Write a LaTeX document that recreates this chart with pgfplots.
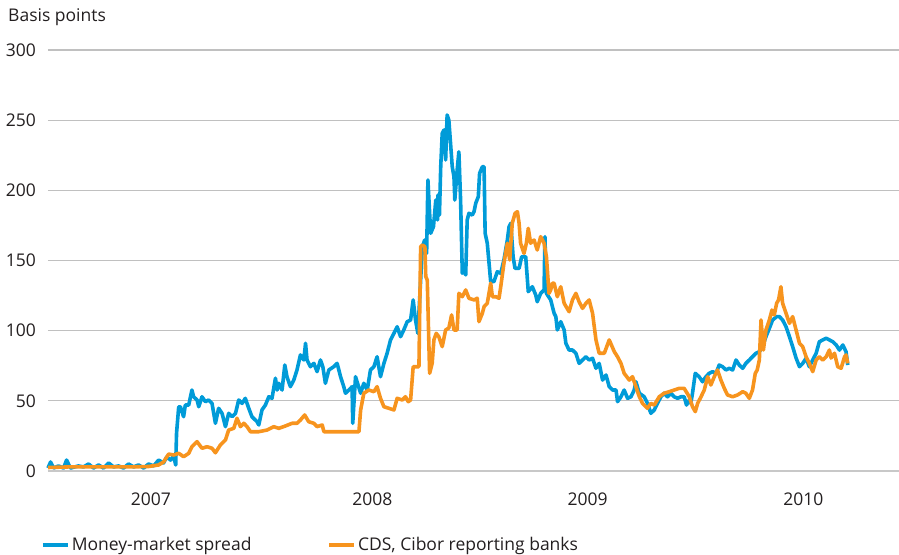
\documentclass[border=0pt]{standalone}
\usepackage{fontspec}
\setmainfont{Open Sans}
\usepackage{pgfplots}
\usepackage{pgfplotstable}
\pgfplotsset{compat=1.18}
\definecolor{mmblue}{RGB}{0,155,216}
\definecolor{cdsorange}{RGB}{247,148,30}
\definecolor{gridgray}{RGB}{192,192,192}
\definecolor{axisgray}{RGB}{200,200,200}
\definecolor{txt}{RGB}{35,31,32}

\pgfplotstableread{
x y
2007.000 2.1
2007.012 6.4
2007.026 2.1
2007.049 3.6
2007.073 2.1
2007.087 7.8
2007.105 2.1
2007.143 3.6
2007.166 2.9
2007.190 5.0
2007.213 2.1
2007.237 4.3
2007.260 2.1
2007.284 5.7
2007.307 2.9
2007.331 3.6
2007.354 2.1
2007.377 5.0
2007.401 2.9
2007.424 4.3
2007.448 2.1
2007.471 5.0
2007.495 3.6
2007.518 7.8
2007.541 5.7
2007.556 10.0
2007.574 7.8
2007.588 10.7
2007.598 4.3
2007.602 27.1
2007.612 45.6
2007.620 45.8
2007.635 38.7
2007.643 47.0
2007.659 47.0
2007.674 57.7
2007.682 52.9
2007.698 50.6
2007.706 45.8
2007.721 52.9
2007.737 49.4
2007.752 50.6
2007.768 48.2
2007.784 34.0
2007.799 44.7
2007.815 41.1
2007.831 31.6
2007.846 41.1
2007.862 38.7
2007.878 41.1
2007.893 50.6
2007.909 48.2
2007.924 51.8
2007.940 44.7
2007.955 38.7
2007.979 35.1
2007.987 32.8
2008.002 43.5
2008.018 47.0
2008.034 52.9
2008.049 51.8
2008.065 66.1
2008.073 57.7
2008.081 62.5
2008.096 57.7
2008.109 75.5
2008.119 67.2
2008.135 60.1
2008.151 64.8
2008.166 72.0
2008.182 82.7
2008.198 79.1
2008.206 91.0
2008.213 79.1
2008.229 74.3
2008.245 76.7
2008.260 70.8
2008.276 79.1
2008.287 74.3
2008.299 62.5
2008.315 72.0
2008.338 74.3
2008.354 76.7
2008.370 67.2
2008.385 60.1
2008.393 55.4
2008.409 57.7
2008.424 60.1
2008.427 34.0
2008.440 67.2
2008.464 55.4
2008.479 62.5
2008.495 57.7
2008.510 72.0
2008.526 74.3
2008.541 81.4
2008.557 67.2
2008.573 76.7
2008.588 83.9
2008.604 93.4
2008.620 98.1
2008.635 102.8
2008.651 95.7
2008.666 100.5
2008.682 106.4
2008.698 107.6
2008.710 121.9
2008.721 107.6
2008.732 98.1
2008.745 136.1
2008.753 159.8
2008.764 164.6
2008.773 155.1
2008.779 207.4
2008.792 169.4
2008.805 174.1
2008.816 193.1
2008.824 178.9
2008.826 196.7
2008.833 182.4
2008.839 216.8
2008.846 240.6
2008.854 243.0
2008.862 221.6
2008.869 253.7
2008.877 250.1
2008.885 233.5
2008.893 216.8
2008.901 209.7
2008.905 193.1
2008.916 214.5
2008.924 227.5
2008.932 193.1
2008.940 140.9
2008.948 143.2
2008.956 139.7
2008.963 178.9
2008.971 183.6
2008.987 182.4
2008.995 184.8
2009.003 190.8
2009.015 195.5
2009.021 212.1
2009.034 216.8
2009.042 216.8
2009.047 169.4
2009.057 162.3
2009.073 134.9
2009.088 134.9
2009.104 142.0
2009.120 140.9
2009.135 150.4
2009.151 164.6
2009.159 174.1
2009.167 176.5
2009.178 152.7
2009.187 144.4
2009.206 144.4
2009.218 152.7
2009.237 152.7
2009.249 127.8
2009.268 131.3
2009.284 125.4
2009.291 120.6
2009.307 126.6
2009.323 129.0
2009.327 167.0
2009.334 126.6
2009.354 121.9
2009.370 112.4
2009.378 110.0
2009.385 100.5
2009.401 106.4
2009.417 100.5
2009.425 91.0
2009.440 86.2
2009.456 86.2
2009.472 83.9
2009.487 76.7
2009.503 79.1
2009.519 81.4
2009.534 79.1
2009.550 80.3
2009.566 73.2
2009.581 76.7
2009.597 64.8
2009.613 68.4
2009.628 60.1
2009.644 57.7
2009.660 57.7
2009.667 49.4
2009.683 52.9
2009.698 57.7
2009.714 51.8
2009.730 52.9
2009.745 57.7
2009.753 63.6
2009.769 55.4
2009.792 52.9
2009.807 48.2
2009.823 41.1
2009.839 43.5
2009.854 48.2
2009.870 52.9
2009.885 55.4
2009.901 52.9
2009.917 55.4
2009.932 52.9
2009.948 51.8
2009.964 52.9
2009.979 52.9
2009.990 47.0
2010.003 50.6
2010.010 48.2
2010.018 55.4
2010.031 69.6
2010.049 67.2
2010.065 63.6
2010.081 67.2
2010.096 69.6
2010.112 70.8
2010.128 69.6
2010.143 75.5
2010.159 74.3
2010.175 72.0
2010.190 73.2
2010.206 72.0
2010.222 79.1
2010.237 75.5
2010.253 73.2
2010.268 76.7
2010.284 79.1
2010.299 81.4
2010.315 83.9
2010.331 85.0
2010.346 88.6
2010.362 95.7
2010.378 101.7
2010.393 107.6
2010.412 110.0
2010.425 110.0
2010.440 107.6
2010.456 102.8
2010.472 95.7
2010.487 88.6
2010.503 80.5
2010.519 74.3
2010.534 76.7
2010.550 80.3
2010.565 74.3
2010.581 79.1
2010.597 83.9
2010.612 92.1
2010.628 93.4
2010.644 94.6
2010.659 93.4
2010.675 92.1
2010.691 89.8
2010.706 86.2
2010.722 89.8
2010.737 85.0
2010.745 75.5
}\mmtable

\pgfplotstableread{
x y
2007.000 2.5
2007.096 2.9
2007.237 2.9
2007.377 2.9
2007.471 3.2
2007.518 4.3
2007.541 6.4
2007.565 12.1
2007.588 11.4
2007.612 12.6
2007.635 10.2
2007.659 12.6
2007.674 17.3
2007.698 20.9
2007.721 16.2
2007.745 17.3
2007.768 16.2
2007.784 13.0
2007.807 18.5
2007.831 22.1
2007.846 29.2
2007.870 30.4
2007.885 37.6
2007.901 31.6
2007.917 34.0
2007.932 31.6
2007.948 28.0
2007.987 28.0
2008.026 29.2
2008.057 31.6
2008.081 30.4
2008.112 32.1
2008.143 34.0
2008.166 34.0
2008.182 36.3
2008.202 39.9
2008.221 35.1
2008.245 34.0
2008.260 31.6
2008.284 32.8
2008.292 28.0
2008.456 28.0
2008.464 43.5
2008.479 55.4
2008.502 57.7
2008.526 56.5
2008.541 60.1
2008.557 51.8
2008.573 45.8
2008.596 44.7
2008.620 43.5
2008.635 51.8
2008.659 50.6
2008.674 52.9
2008.687 49.4
2008.698 50.6
2008.710 74.3
2008.737 74.3
2008.745 159.8
2008.753 161.0
2008.765 159.8
2008.769 138.5
2008.776 136.1
2008.787 69.6
2008.799 76.7
2008.807 93.4
2008.818 98.1
2008.830 95.7
2008.846 88.6
2008.862 100.5
2008.877 101.9
2008.890 111.2
2008.901 100.5
2008.916 100.5
2008.924 126.6
2008.940 124.2
2008.956 129.0
2008.971 123.1
2008.995 121.9
2009.010 123.1
2009.018 106.4
2009.034 112.4
2009.042 117.1
2009.057 119.5
2009.073 133.8
2009.081 124.2
2009.096 124.2
2009.112 123.1
2009.120 131.3
2009.135 148.0
2009.151 162.3
2009.162 150.4
2009.174 176.5
2009.187 183.6
2009.198 184.8
2009.206 176.5
2009.213 162.3
2009.229 155.1
2009.240 162.3
2009.249 172.9
2009.260 162.3
2009.276 164.6
2009.291 157.5
2009.307 167.0
2009.323 162.3
2009.334 152.7
2009.346 126.6
2009.354 129.0
2009.362 133.8
2009.370 133.8
2009.385 124.2
2009.401 131.3
2009.417 119.5
2009.440 113.5
2009.456 121.9
2009.472 126.6
2009.487 120.6
2009.503 115.9
2009.519 119.5
2009.534 121.9
2009.550 112.4
2009.566 93.4
2009.581 83.9
2009.605 83.9
2009.628 93.4
2009.652 85.0
2009.667 81.4
2009.683 76.7
2009.698 69.6
2009.722 64.8
2009.737 67.2
2009.753 60.1
2009.769 52.9
2009.784 48.2
2009.807 44.7
2009.823 48.2
2009.839 47.0
2009.862 52.9
2009.885 55.4
2009.909 56.5
2009.932 57.7
2009.956 58.9
2009.979 58.9
2010.003 52.9
2010.018 45.8
2010.031 42.3
2010.042 48.2
2010.058 52.9
2010.073 57.7
2010.089 67.2
2010.104 61.3
2010.120 67.2
2010.135 72.0
2010.151 64.8
2010.167 58.9
2010.182 54.2
2010.206 52.9
2010.229 54.2
2010.253 56.5
2010.268 55.4
2010.284 51.8
2010.299 57.7
2010.312 69.6
2010.321 72.0
2010.331 79.1
2010.339 107.6
2010.350 86.2
2010.362 100.5
2010.378 107.6
2010.390 114.7
2010.401 111.2
2010.412 119.5
2010.421 121.9
2010.432 131.3
2010.440 119.5
2010.456 112.4
2010.472 105.2
2010.487 110.0
2010.503 100.5
2010.519 91.0
2010.534 88.6
2010.550 81.4
2010.565 76.7
2010.581 70.8
2010.597 79.1
2010.612 81.4
2010.628 79.1
2010.644 81.4
2010.659 86.2
2010.667 80.5
2010.683 83.9
2010.698 74.3
2010.714 73.2
2010.730 81.4
2010.737 82.7
2010.745 76.7
}\cdstable

\begin{document}
\begin{tikzpicture}
\fontsize{17.5bp}{20bp}\selectfont
\begin{axis}[
  at={(0,0)}, anchor=south west,
  scale only axis,
  width=851bp, height=421bp,
  xmin=2007, xmax=2010.985,
  ymin=0, ymax=300,
  ytick={0,50,100,150,200,250,300},
  ymajorgrids=true,
  grid style={gridgray, line width=1.2bp},
  axis x line=bottom,
  axis y line=left,
  axis line style={-},
  y axis line style={draw=none},
  x axis line style={axisgray, line width=1.6bp},
  xtick={2007.482,2008.519,2009.527,2010.537},
  xticklabels={2007,2008,2009,2010},
  major tick length=0pt,
  extra x ticks={2008,2009,2010},
  extra x tick labels={,,},
  extra x tick style={grid=none, major tick length=7bp, tick align=inside, tick style={axisgray, line width=1.2bp}},
  tick style={draw=none},
  /pgf/number format/assume math mode=true,
  ticklabel style={font=\fontsize{17.5bp}{20bp}\selectfont, text=txt},
  yticklabel style={xshift=-6bp},
  xticklabel style={yshift=-16bp},
  legend columns=2,
  legend style={draw=none, fill=none, at={(0,0)}, anchor=north west, xshift=-10bp, yshift=-62bp,
    font=\fontsize{17.5bp}{20bp}\selectfont, text=txt,
    /tikz/every even column/.append style={column sep=74bp}},
  legend cell align=left,
  legend image code/.code={\draw[#1, line width=3.6bp] (0bp,0bp) -- (25bp,0bp);},
  clip=false,
]
\addplot[mmblue, line width=3.6bp, line join=round, no markers] table[x=x, y=y] {\mmtable};
\addlegendentry{Money-market spread}
\addplot[cdsorange, line width=3.6bp, line join=round, no markers] table[x=x, y=y] {\cdstable};
\addlegendentry{CDS, Cibor reporting banks}
\end{axis}
\node[anchor=west, text=txt, font=\fontsize{17.5bp}{20bp}\selectfont, inner sep=0pt] at (-40bp,454bp) {Basis points};
\pgfresetboundingbox
\path (-48bp,-84bp) rectangle (851bp,471bp);
\end{tikzpicture}
\end{document}
